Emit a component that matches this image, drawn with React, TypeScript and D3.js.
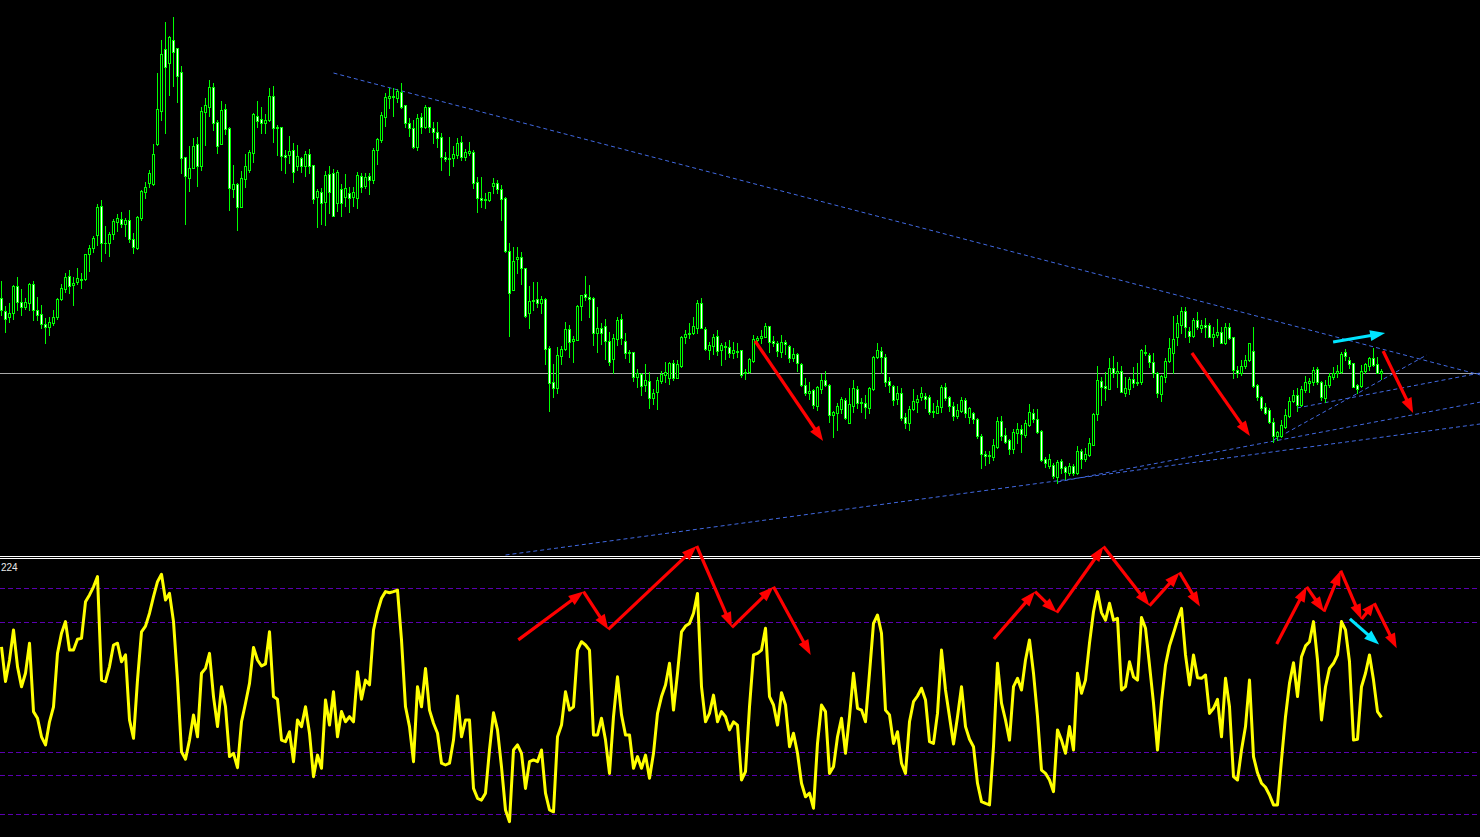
import React from "react";
import * as d3 from "d3";

const W = 1480;
const H = 837;

// Candle data (price in points)
const openPts = [
1202,1189,1183,1187,1214,1198,1193,1197,1216,1190,
1186,1176,1173,1177,1183,1201,1211,1224,1215,1218,
1221,1221,1246,1252,1265,1294,1257,1257,1266,1278,
1281,1276,1280,1261,1252,1282,1308,1317,1316,1356,
1389,1451,1437,1460,1452,1428,1343,1322,1332,1356,
1334,1388,1393,1413,1378,1356,1391,1372,1311,1316,
1293,1321,1330,1347,1384,1381,1377,1380,1404,1373,
1373,1345,1345,1350,1334,1342,1334,1346,1335,1303,
1308,1298,1326,1327,1297,1311,1303,1307,1303,1302,
1324,1314,1324,1320,1350,1360,1383,1402,1404,1402,
1408,1395,1377,1372,1353,1383,1373,1393,1372,1368,
1363,1343,1341,1342,1345,1358,1343,1347,1348,1318,
1302,1300,1300,1314,1317,1311,1302,1249,1210,1241,
1243,1232,1187,1199,1201,1197,1201,1152,1118,1112,
1144,1151,1171,1159,1160,1194,1206,1203,1202,1167,
1172,1174,1159,1141,1161,1181,1159,1148,1148,1123,
1126,1115,1119,1102,1108,1119,1125,1122,1137,1122,
1134,1163,1166,1167,1172,1197,1171,1150,1154,1164,
1150,1154,1153,1147,1149,1150,1127,1128,1139,1160,
1162,1163,1174,1159,1157,1148,1158,1154,1142,1146,
1136,1115,1107,1110,1094,1111,1120,1115,1085,1087,
1091,1100,1077,1094,1111,1097,1097,1092,1111,1143,
1149,1143,1119,1114,1101,1107,1083,1077,1091,1098,
1103,1104,1103,1088,1087,1093,1113,1103,1094,1084,
1089,1100,1083,1087,1081,1064,1046,1044,1043,1053,
1079,1065,1060,1051,1067,1071,1065,1075,1087,1081,
1069,1041,1034,1035,1023,1039,1033,1027,1034,1027,
1049,1041,1045,1055,1086,1119,1114,1111,1132,1127,
1129,1107,1111,1121,1118,1118,1148,1145,1138,1127,
1106,1123,1139,1147,1163,1175,1189,1169,1164,1180,
1172,1175,1175,1163,1165,1168,1157,1173,1163,1130,
1127,1134,1140,1149,1115,1103,1093,1090,1078,1064,
1064,1073,1084,1099,1105,1095,1110,1117,1118,1131,
1118,1102,1115,1123,1127,1128,1148,1140,1137,1115,
1114,1129,1134,1142,1136,1127
];
const highPts = [
1219,1194,1197,1215,1223,1211,1202,1217,1219,1203,
1195,1182,1183,1190,1202,1216,1227,1230,1223,1232,
1227,1246,1255,1264,1296,1300,1274,1268,1281,1286,
1288,1282,1290,1267,1284,1310,1318,1330,1356,1427,
1460,1478,1464,1483,1452,1434,1343,1354,1362,1363,
1393,1402,1420,1417,1380,1399,1396,1373,1335,1317,
1329,1346,1350,1387,1399,1393,1386,1412,1414,1375,
1373,1350,1364,1357,1355,1343,1349,1351,1335,1311,
1312,1329,1334,1331,1330,1316,1326,1313,1313,1328,
1327,1327,1327,1352,1362,1388,1407,1412,1412,1411,
1417,1395,1382,1380,1386,1387,1395,1393,1378,1378,
1367,1348,1363,1354,1362,1364,1351,1358,1350,1323,
1323,1307,1308,1322,1320,1315,1303,1257,1253,1253,
1248,1232,1214,1218,1218,1204,1202,1154,1136,1153,
1154,1178,1175,1164,1195,1205,1224,1215,1203,1193,
1177,1181,1168,1166,1183,1186,1167,1150,1148,1131,
1127,1136,1128,1111,1123,1129,1138,1138,1140,1140,
1164,1170,1177,1183,1200,1202,1173,1158,1166,1170,
1157,1158,1160,1158,1157,1150,1131,1142,1165,1164,
1170,1177,1174,1164,1159,1165,1160,1155,1152,1147,
1137,1122,1118,1111,1114,1126,1129,1116,1089,1097,
1103,1102,1112,1120,1114,1102,1105,1113,1144,1157,
1153,1146,1123,1115,1114,1112,1087,1094,1111,1105,
1113,1107,1105,1097,1100,1115,1117,1104,1098,1096,
1103,1102,1093,1088,1082,1066,1049,1049,1061,1083,
1084,1072,1061,1071,1077,1075,1080,1096,1091,1091,
1070,1043,1046,1037,1040,1041,1034,1037,1036,1054,
1051,1052,1062,1087,1134,1123,1128,1142,1144,1138,
1134,1123,1123,1133,1137,1151,1155,1147,1147,1128,
1125,1142,1162,1184,1185,1193,1193,1173,1182,1188,
1180,1182,1177,1173,1181,1173,1177,1177,1163,1134,
1140,1145,1157,1173,1116,1104,1097,1092,1082,1069,
1080,1091,1103,1110,1112,1114,1124,1122,1133,1133,
1119,1120,1127,1133,1135,1148,1151,1143,1137,1116,
1135,1137,1143,1152,1143,1131
];
const lowPts = [
1185,1168,1178,1181,1190,1185,1191,1190,1180,1180,
1172,1157,1165,1175,1181,1200,1208,1207,1195,1216,
1212,1220,1229,1248,1255,1239,1247,1244,1261,1269,
1273,1264,1258,1247,1251,1280,1302,1313,1315,1355,
1380,1367,1405,1414,1398,1327,1276,1309,1332,1314,
1330,1355,1384,1370,1347,1356,1366,1290,1303,1270,
1293,1313,1328,1338,1373,1367,1367,1379,1358,1345,
1330,1327,1337,1318,1330,1328,1324,1327,1297,1273,
1276,1275,1287,1284,1289,1284,1294,1288,1294,1292,
1308,1312,1306,1317,1336,1358,1374,1392,1384,1398,
1392,1373,1364,1352,1350,1367,1372,1368,1357,1353,
1330,1339,1325,1334,1342,1340,1340,1345,1312,1288,
1293,1292,1299,1307,1307,1280,1248,1164,1210,1227,
1216,1183,1172,1190,1193,1187,1136,1089,1103,1107,
1136,1150,1143,1138,1160,1180,1200,1183,1155,1148,
1156,1141,1135,1127,1155,1156,1142,1138,1119,1113,
1105,1109,1092,1096,1091,1117,1118,1116,1120,1122,
1133,1157,1162,1166,1167,1172,1150,1141,1146,1145,
1135,1141,1143,1142,1143,1123,1121,1127,1138,1155,
1157,1163,1148,1154,1144,1143,1146,1138,1139,1129,
1114,1105,1101,1092,1090,1107,1114,1078,1063,1070,
1087,1081,1077,1088,1092,1088,1082,1087,1110,1142,
1127,1114,1108,1095,1096,1080,1072,1070,1090,1088,
1100,1092,1086,1083,1087,1088,1100,1089,1080,1082,
1088,1083,1077,1077,1062,1032,1035,1037,1040,1052,
1060,1057,1046,1047,1057,1048,1063,1074,1078,1067,
1039,1033,1032,1022,1017,1027,1021,1025,1025,1026,
1032,1039,1044,1055,1080,1095,1100,1111,1123,1113,
1108,1104,1106,1113,1115,1116,1145,1133,1123,1103,
1099,1118,1138,1127,1155,1167,1163,1158,1163,1171,
1168,1163,1163,1154,1163,1157,1156,1161,1122,1123,
1125,1132,1139,1113,1100,1090,1086,1077,1058,1060,
1063,1072,1083,1098,1089,1094,1108,1108,1115,1116,
1100,1098,1113,1121,1123,1127,1140,1132,1113,1107,
1113,1127,1130,1134,1127,1121
];
const closePts = [
1190,1181,1187,1214,1198,1193,1198,1216,1190,1185,
1176,1173,1178,1183,1201,1212,1223,1214,1217,1222,
1220,1246,1252,1262,1293,1257,1257,1266,1279,1282,
1276,1280,1261,1253,1283,1309,1313,1327,1346,1391,
1446,1433,1463,1448,1424,1342,1324,1332,1354,1334,
1389,1395,1413,1377,1354,1390,1371,1312,1316,1293,
1322,1334,1348,1386,1379,1377,1380,1404,1372,1372,
1344,1343,1349,1328,1344,1334,1346,1334,1301,1309,
1297,1325,1308,1284,1328,1297,1312,1302,1308,1325,
1313,1323,1320,1350,1361,1385,1403,1404,1403,1409,
1393,1377,1372,1353,1382,1373,1393,1373,1368,1362,
1343,1341,1342,1346,1357,1343,1348,1349,1317,1302,
1300,1301,1308,1317,1311,1301,1249,1207,1239,1243,
1232,1184,1199,1200,1197,1201,1151,1117,1112,1145,
1151,1171,1158,1161,1194,1205,1203,1201,1167,1172,
1167,1159,1138,1162,1180,1162,1147,1147,1123,1127,
1114,1120,1102,1107,1120,1126,1128,1137,1122,1136,
1163,1166,1167,1174,1197,1172,1151,1155,1163,1149,
1155,1153,1147,1150,1148,1125,1128,1141,1161,1162,
1164,1174,1158,1157,1149,1158,1156,1142,1146,1137,
1115,1107,1109,1095,1113,1120,1115,1085,1088,1094,
1101,1082,1096,1112,1097,1098,1093,1112,1143,1150,
1143,1118,1115,1100,1107,1082,1077,1091,1099,1101,
1107,1101,1088,1089,1094,1113,1102,1094,1084,1090,
1100,1087,1092,1081,1064,1046,1044,1045,1055,1079,
1064,1058,1051,1068,1071,1066,1077,1088,1081,1068,
1040,1037,1041,1024,1038,1032,1028,1034,1027,1049,
1041,1046,1057,1086,1120,1113,1112,1132,1127,1129,
1108,1112,1121,1117,1117,1150,1147,1138,1127,1107,
1124,1139,1152,1161,1177,1189,1173,1164,1180,1173,
1175,1173,1163,1166,1168,1157,1173,1162,1130,1127,
1134,1140,1157,1114,1103,1092,1087,1078,1064,1068,
1075,1085,1099,1105,1095,1111,1118,1119,1130,1118,
1103,1115,1124,1127,1129,1146,1144,1136,1113,1111,
1129,1136,1142,1135,1127,1129
];

// Oscillator values (0..100 scale)
const oscValues = [
64.4,52.8,60,70,57.8,51.1,55.6,65.6,42.8,40.6,
34.4,31.7,39.4,44.4,62.2,68.9,72.8,63.3,63.3,66.9,
67.2,79.4,81.7,84.4,87.8,53.3,52.8,57.8,65,65.6,
59.4,61.7,40,33.9,53.3,69.4,71.3,75.6,81.1,86.1,
88.6,80,82.2,72.8,53.3,29.4,26.9,33.3,41.7,34.4,
55.6,57.2,62.2,47.8,37.8,51.1,44.4,27.8,28.9,24.1,
39.4,45.6,52.2,64.2,60,58,58.7,69.4,47.8,46.9,
33.3,32.8,36.1,26.1,40,37.8,44.4,35.6,21.1,28.3,
23.9,46.7,38.3,49.4,34.4,42.8,39.4,41.1,39.4,56.1,
46.9,53.3,51.7,70,76.1,80.6,82.8,82.4,82.8,83.3,
66.7,44.4,37.8,26.1,51.1,44.4,57.2,43.3,38.9,35.6,
25.6,25,25.6,33.3,48,34.4,40,40,17.2,13.9,
13.3,15.6,30,42.4,36.7,24.4,10,6.1,30,31.7,
28.9,17.2,26.1,26.7,26.1,30,15.6,10,9.4,34.4,
38.3,49.4,43.3,44.4,63.3,66.1,65,63.3,35,35,
40.6,33.3,22.2,41.1,54.4,41.7,35,35,23.9,27.8,
23.9,28.3,20.6,28.9,42.2,47.8,51.7,58.9,43.3,55.6,
69.4,71.3,72.2,75.6,82.2,51.1,39.4,42.2,48.3,39.4,
42.8,41.1,36.7,39.4,38.3,20,22.8,44.4,61.7,62.2,
63.3,70.6,47.8,45,38.3,49.1,45,31.1,35.6,28.9,
18.9,14.4,15.6,10.6,32.2,45,42.8,22.2,24.4,34.4,
40.6,28.9,41.1,55.6,43.9,43.3,39.4,55.6,72.2,75,
68.9,43.3,41.7,32.2,36.1,25.6,22.2,39.4,46.1,48,
50.6,46.7,32.8,32.2,42.2,63.3,50,41.1,32,41.1,
51.1,37.8,33.6,31.1,18.9,12.8,12.2,11.7,31.1,58.9,
45.6,40,33.3,51.1,53.9,50,60,66.7,55.6,41.1,
23.3,22.2,20,16.1,36.7,33.3,28.9,37.8,30,55.6,
48.9,53.3,65.6,76.1,82.8,75.8,73.3,78.9,73.3,73.9,
50,51.1,59.4,54.4,53.3,74.2,70.6,58.3,45.6,30,
46.1,58.3,64.7,68.9,73.3,77.2,61.7,51.7,61.7,54.1,
53.9,55,42.2,43.9,46.9,34.4,53.9,44.4,21.1,20,
30,37.8,53.3,27.8,22.4,18.9,17.6,15,11.7,11.7,
26.7,41.1,52.2,59.1,47.8,61.1,64.7,66.1,72.8,60,
40,51.1,57.2,58.9,61.7,72.8,70,59.4,33.3,33.6,
51.1,55.6,61.7,53.3,42.8,40.9
];
const oscLevels = [84, 72.6, 29.2, 21.6, 8.6];
const oscLabel = "224";
const priceLevel = 1126.7;

// Trend lines: [barIndex, price]
const trendLines = [
  { a: [83, 1427], b: [346, 1150], ray: true },
  { a: [126, 945], b: [346, 1063.3], ray: true },
  { a: [264, 1018], b: [346, 1080], ray: true },
  { a: [318, 1060], b: [356.3, 1145], ray: false },
  { a: [323.9, 1092], b: [346, 1108.9], ray: true },
];

// Arrows on price panel: [barIndex, price]
const priceArrows = [
  { pts: [[188.4, 1159], [205.4, 1059]], color: "#ff0000" },
  { pts: [[297.6, 1147], [312.1, 1064]], color: "#ff0000" },
  { pts: [[345.4, 1149], [352.9, 1087]], color: "#ff0000" },
  { pts: [[332.9, 1158], [345.9, 1167]], color: "#00e5ff" },
];

// Arrows on oscillator panel: [barIndex, value]
const oscArrows = [
  { pts: [[129.2, 66.7], [145.5, 82.8], [151.7, 70.2], [173.8, 98], [182.6, 70.9], [193, 84.4], [202.3, 61.7]], color: "#ff0000" },
  { pts: [[248.1, 67], [258.4, 82.8], [263.8, 75.8], [275.5, 97.8], [287, 78.1], [294.5, 89.2], [299.6, 77.8]], color: "#ff0000" },
  { pts: [[318.8, 65.3], [326.3, 84.4], [330.6, 76.1], [334.8, 89.8], [340, 73.6], [343.2, 78.9], [348.8, 63.9]], color: "#ff0000" },
  { pts: [[337.1, 73.7], [344.4, 65.2]], color: "#00e5ff" },
];

const MAIN_BOTTOM = 556;

function Arrow({ x1, y1, x2, y2, color }: { x1: number; y1: number; x2: number; y2: number; color: string }) {
  const dx = x2 - x1, dy = y2 - y1;
  const len = Math.hypot(dx, dy) || 1;
  const ux = dx / len, uy = dy / len;
  const L = Math.min(15, len * 0.6), w = 5.5;
  const bx = x2 - ux * L, by = y2 - uy * L;
  const px = -uy, py = ux;
  const pts = `${x2},${y2} ${bx + px * w},${by + py * w} ${bx - px * w},${by - py * w}`;
  return (
    <g>
      <line x1={x1} y1={y1} x2={bx + ux * 2} y2={by + uy * 2} stroke={color} strokeWidth={3.2} />
      <polygon points={pts} fill={color} />
    </g>
  );
}

export default function App() {
  const n = closePts.length;
  const x = d3.scaleLinear().domain([0, 1]).range([1.5, 5.5]);
  const yP = d3.scaleLinear().domain([945, 1500]).range([555, 0]);
  const yO = d3.scaleLinear().domain([0, 100]).range([840, 540]);

  const oscLine = d3
    .line<number>()
    .x((_, i) => x(i))
    .y((d) => yO(d))(oscValues) as string;

  const candles = d3.range(n).map((i) => {
    const cx = x(i);
    const yo = Math.round(yP(openPts[i]));
    const yc = Math.round(yP(closePts[i]));
    const top = Math.min(yo, yc);
    const bot = Math.max(yo, yc);
    const yh = Math.min(Math.round(yP(highPts[i])), top);
    const yl = Math.max(Math.round(yP(lowPts[i])), bot);
    const bull = closePts[i] > openPts[i];
    const h = Math.max(1, bot - top + 1);
    return (
      <g key={i}>
        <line x1={cx} x2={cx} y1={yh} y2={yl + 1} stroke="#00ff00" strokeWidth={1} />
        <rect x={cx - 1.5} y={top} width={3} height={h} fill="#00ff00" />
        {h > 2 && (
          <rect x={cx - 0.5} y={top + 1} width={1} height={h - 2} fill={bull ? "#000000" : "#ffffff"} />
        )}
      </g>
    );
  });

  const tl = trendLines.map((t, k) => {
    const x1 = x(t.a[0]), y1 = yP(t.a[1]);
    let x2 = x(t.b[0]), y2 = yP(t.b[1]);
    if (t.ray) {
      const s = (W - x1) / (x2 - x1);
      y2 = y1 + s * (y2 - y1);
      x2 = W;
    }
    return <line key={k} x1={x1} y1={y1} x2={x2} y2={y2} stroke="#4169e1" strokeWidth={1} strokeDasharray="4,3" />;
  });

  return (
    <svg width={W} height={H} style={{ position: "fixed", left: 0, top: 0, display: "block" }}>
      <defs>
        <clipPath id="mainClip">
          <rect x={0} y={0} width={W} height={MAIN_BOTTOM} />
        </clipPath>
      </defs>
      <rect x={0} y={0} width={W} height={H} fill="#000000" />
      <g clipPath="url(#mainClip)">
        <line x1={0} x2={W} y1={Math.round(yP(priceLevel)) + 0.5} y2={Math.round(yP(priceLevel)) + 0.5} stroke="#a8a8a8" strokeWidth={1} />
        {tl}
        {candles}
      </g>
      {priceArrows.map((a, k) => (
        <Arrow key={k} x1={x(a.pts[0][0])} y1={yP(a.pts[0][1])} x2={x(a.pts[1][0])} y2={yP(a.pts[1][1])} color={a.color} />
      ))}
      <line x1={0} x2={W} y1={556.5} y2={556.5} stroke="#ffffff" strokeWidth={1} />
      <line x1={0} x2={W} y1={558.5} y2={558.5} stroke="#ffffff" strokeWidth={1} />
      <text x={1} y={570.5} fontFamily="Liberation Sans, Arial, sans-serif" fontSize={10} fill="#e8e8e8">{oscLabel}</text>
      {oscLevels.map((l, k) => (
        <line key={k} x1={0} x2={W} y1={Math.round(yO(l)) + 0.5} y2={Math.round(yO(l)) + 0.5} stroke="#5a00b0" strokeWidth={1} strokeDasharray="5,3" />
      ))}
      <path d={oscLine} fill="none" stroke="#ffff00" strokeWidth={3} strokeLinejoin="round" />
      {oscArrows.map((a, k) => (
        <g key={k}>
          {a.pts.slice(1).map((p, j) => (
            <Arrow key={j} x1={x(a.pts[j][0])} y1={yO(a.pts[j][1])} x2={x(p[0])} y2={yO(p[1])} color={a.color} />
          ))}
        </g>
      ))}
    </svg>
  );
}
